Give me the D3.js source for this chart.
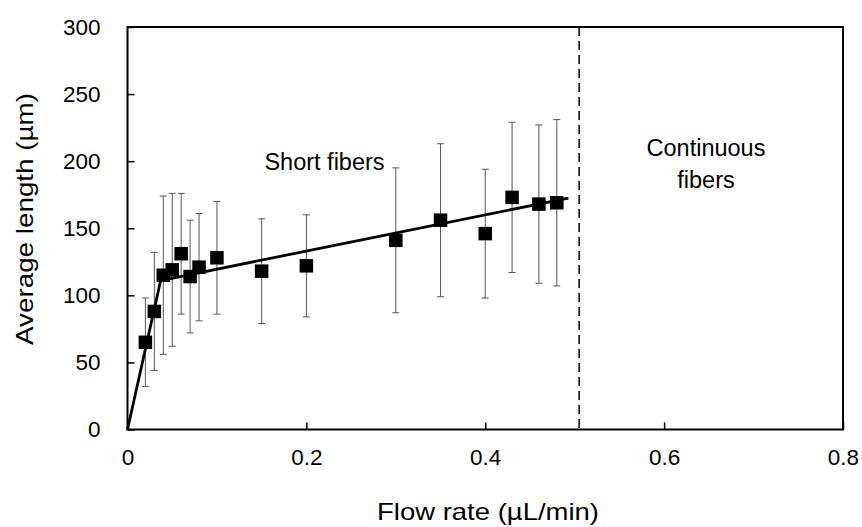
<!DOCTYPE html>
<html>
<head>
<meta charset="utf-8">
<script src="https://cdn.jsdelivr.net/npm/d3@7/dist/d3.min.js"></script>
<style>
  html, body { margin: 0; padding: 0; background: #fff; }
  svg { display: block; font-family: "Liberation Sans", Arial, sans-serif; }
</style>
</head>
<body>
<svg id="chart" width="862" height="527"></svg>
<script>
// ---- data ----
const flowRate = [0.02, 0.03, 0.04, 0.05, 0.06, 0.07, 0.08, 0.10, 0.15, 0.20, 0.30, 0.35, 0.40, 0.43, 0.46, 0.48];
const avgLength = [65, 88, 115, 119, 131, 114, 121, 128, 118, 122, 141, 156, 146, 173, 168, 169];
const stdDev = [33, 44, 59, 57, 45, 42, 40, 42, 39, 38, 54, 57, 48, 56, 59, 62];
const fitX = [0, 0.037, 0.493];
const fitY = [0, 111, 172.5];
const boundaryX = 0.505;
const xTicks = [0, 0.2, 0.4, 0.6, 0.8];
const yTicks = [0, 50, 100, 150, 200, 250, 300];
const xTitle = "Flow rate (µL/min)";
const yTitle = "Average length (µm)";
const regionLabels = ["Short fibers", "Continuous", "fibers"];

const W = 862, H = 527;
const margin = { top: 27, right: 19, bottom: 97.5, left: 127.5 };
const iw = W - margin.left - margin.right;
const ih = H - margin.top - margin.bottom;

const svg = d3.select("#chart");
const g = svg.append("g").attr("transform", `translate(${margin.left},${margin.top})`);

const x = d3.scaleLinear().domain([0, 0.8]).range([0, iw]);
const y = d3.scaleLinear().domain([0, 300]).range([ih, 0]);

// axes (inward ticks)
const xAxis = d3.axisBottom(x).tickValues(xTicks)
  .tickFormat(d => d === 0 ? "0" : d3.format(".1f")(d))
  .tickSizeInner(-7).tickSizeOuter(0).tickPadding(20);
const yAxis = d3.axisLeft(y).tickValues(yTicks).tickFormat(d3.format("d"))
  .tickSizeInner(-7).tickSizeOuter(0).tickPadding(27);

const gx = g.append("g").attr("transform", `translate(0,${ih})`).call(xAxis);
const gy = g.append("g").call(yAxis);
[gx, gy].forEach(a => {
  a.select(".domain").remove();
  a.selectAll(".tick line").attr("stroke", "#000").attr("stroke-width", 1.5);
  a.selectAll(".tick text").attr("fill", "#000").style("font-size", "22.5px")
    .style("font-family", '"Liberation Sans", Arial, sans-serif');
});

// frame
g.append("rect").attr("x", 0).attr("y", 0).attr("width", iw).attr("height", ih)
  .attr("fill", "none").attr("stroke", "#000").attr("stroke-width", 2);

// boundary dashed line
g.append("line")
  .attr("x1", x(boundaryX)).attr("x2", x(boundaryX))
  .attr("y1", y(300)).attr("y2", y(0))
  .attr("stroke", "#000").attr("stroke-width", 1.5).attr("stroke-dasharray", "9,5");

// error bars
const cap = 3.5;
const eb = g.append("g").attr("stroke", "#555").attr("stroke-width", 1);
flowRate.forEach((fx, i) => {
  const cx = x(fx), top = y(avgLength[i] + stdDev[i]), bot = y(avgLength[i] - stdDev[i]);
  eb.append("line").attr("x1", cx).attr("x2", cx).attr("y1", top).attr("y2", bot);
  eb.append("line").attr("x1", cx - cap).attr("x2", cx + cap).attr("y1", top).attr("y2", top);
  eb.append("line").attr("x1", cx - cap).attr("x2", cx + cap).attr("y1", bot).attr("y2", bot);
});

// fit line
const line = d3.line().x((d, i) => x(fitX[i])).y((d, i) => y(fitY[i]));
g.append("path").datum(fitX).attr("d", line)
  .attr("fill", "none").attr("stroke", "#000").attr("stroke-width", 2.8);

// markers
const s = 13.5;
g.append("g").selectAll("rect").data(flowRate).join("rect")
  .attr("x", d => x(d) - s / 2)
  .attr("y", (d, i) => y(avgLength[i]) - s / 2)
  .attr("width", s).attr("height", s).attr("fill", "#000");

// region labels
g.append("text").attr("x", 324.5 - margin.left).attr("y", 170 - margin.top)
  .attr("text-anchor", "middle").style("font-size", "23.5px").text(regionLabels[0]);
g.append("text").attr("x", 706 - margin.left).attr("y", 156 - margin.top)
  .attr("text-anchor", "middle").style("font-size", "23.5px").text(regionLabels[1]);
g.append("text").attr("x", 706 - margin.left).attr("y", 188 - margin.top)
  .attr("text-anchor", "middle").style("font-size", "23.5px").text(regionLabels[2]);

// axis titles
svg.append("text").attr("x", 488).attr("y", 520)
  .attr("text-anchor", "middle").style("font-size", "24px")
  .attr("textLength", 222).attr("lengthAdjust", "spacingAndGlyphs")
  .text(xTitle);
svg.append("text").attr("transform", "translate(33,219) rotate(-90)")
  .attr("text-anchor", "middle").style("font-size", "24px")
  .attr("textLength", 252).attr("lengthAdjust", "spacingAndGlyphs")
  .text(yTitle);
</script>
</body>
</html>
